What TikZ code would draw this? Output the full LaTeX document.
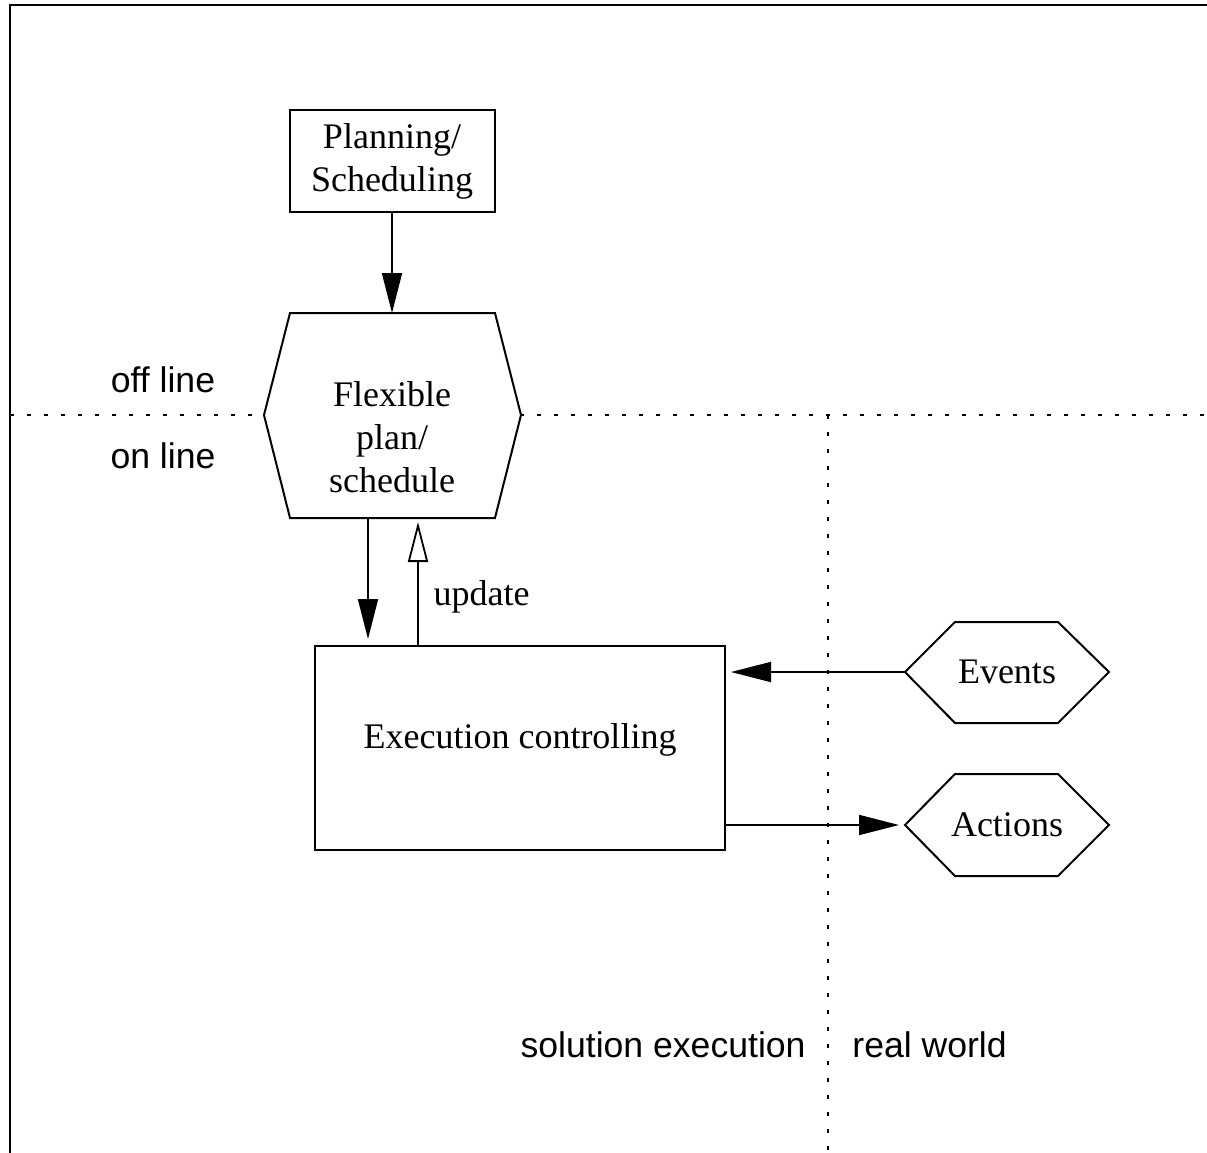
\documentclass[tikz,border=0pt]{standalone}
\usepackage{fontspec}
\setmainfont{Liberation Serif}
\setsansfont{Liberation Sans}
\usetikzlibrary{arrows.meta}

\begin{document}
\begin{tikzpicture}[x=0.5pt, y=-0.5pt,
    every node/.style={font=\fontsize{18}{21.5}\selectfont},
    box/.style={draw, line width=1pt, fill=white},
    side/.style={font=\fontsize{17.8}{21.5}\selectfont\sffamily, inner sep=0pt},
    border/.style={line width=1pt},
    sep/.style={line width=1pt, dash pattern=on 2pt off 6.5pt},
    arr/.style={line width=0.9pt, -{Triangle[length=20pt, width=10pt]}},
    upd/.style={line width=0.9pt, -{Triangle[open, length=20pt, width=10pt]}}]
    \useasboundingbox (0,0) rectangle (1207,1153);
    \draw [border] (10,1153) -- (10,5) -- (1207,5);
    % off line / on line and real world borders
    \draw [sep] (10,415) -- (1207,415);
    \draw [sep] (828,415) -- (828,1153);
    \node [box, minimum width=102.5pt, minimum height=51pt, align=center] (plan) at (392,161) {Planning/\\Scheduling};
    % flexible plan
    \draw [box] (290,313) -- (495,313) -- (521,415) -- (495,518) -- (290,518) -- (264,415) -- cycle;
    \node [align=center] (flex) at (392,437) {Flexible\\plan/\\schedule};
    \coordinate (flexN) at (392,313);
    \coordinate (flexS) at (368,518);
    \coordinate (flexU) at (418,522);
    \node [box, minimum width=205pt, minimum height=102pt, text height=0pt, text depth=0pt] (exec) at (520,748) {Execution controlling};
    % events and actions
    \draw [box] (905,672) -- (955,622) -- (1058,622) -- (1109,672) -- (1058,723) -- (955,723) -- cycle;
    \node (events) at (1007,672) {Events};
    \coordinate (eventsW) at (905,672);
    \draw [box] (905,825) -- (955,774) -- (1058,774) -- (1109,825) -- (1058,876) -- (955,876) -- cycle;
    \node (actions) at (1007,825) {Actions};
    \coordinate (actionsW) at (905,825);
    \draw [arr] (plan) -- (flexN);
    \draw [arr, shorten >=3pt] (flexS) -- (exec.north -| flexS);
    \draw [upd] (exec.north -| flexU) -- (flexU) node [pos=0.39, anchor=west, xshift=4pt] (update) {update};
    \draw [arr, shorten >=2.5pt] (eventsW) -- (exec.east |- eventsW);
    \draw [arr, shorten >=3pt] (exec.east |- actionsW) -- (actionsW);
    \node [side] (offline) at (163,380) {off line};
    \node [side] (online) at (163,456) {on line};
    \node [side, anchor=east] (solution) at (806,1045) {solution execution};
    \node [side, anchor=west] (world) at (852,1045) {real world};
\end{tikzpicture}
\end{document}
